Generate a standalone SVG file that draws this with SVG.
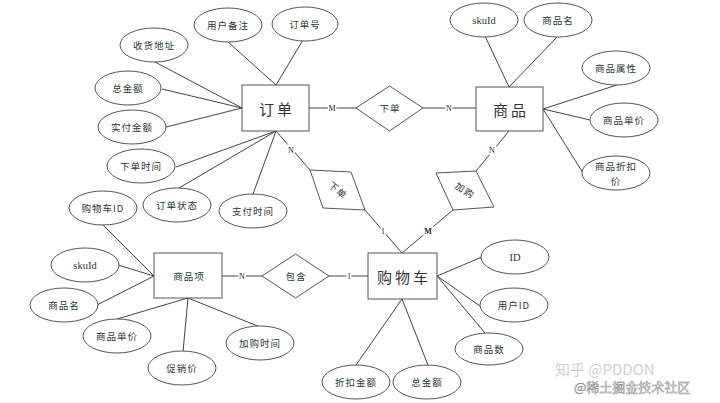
<svg xmlns="http://www.w3.org/2000/svg" width="720" height="403" viewBox="0 0 720 403">
<style>
.bg{fill:#fff}
.ent{fill:#fff;stroke:#555;stroke-width:1}
.att{fill:#fff;stroke:#555;stroke-width:1}
.rel{fill:#fff;stroke:#555;stroke-width:1}
.ln{stroke:#444;stroke-width:1;fill:none}
.t{font-family:"Noto Sans CJK SC","Liberation Serif",serif;font-size:9.5px;fill:#2a3a30;text-anchor:middle;dominant-baseline:central;letter-spacing:1px}
.s{font-family:"Liberation Serif","Noto Sans CJK SC",serif;font-size:10.5px;fill:#2a3a30;text-anchor:middle;dominant-baseline:central}
.big{font-family:"Noto Sans CJK SC",serif;font-size:15px;fill:#333;text-anchor:middle;dominant-baseline:central;letter-spacing:3px}
.card{font-family:"Liberation Serif",serif;font-size:8px;fill:#222;text-anchor:middle;dominant-baseline:central;stroke:#fff;stroke-width:3px;paint-order:stroke}
.wm{font-family:"Noto Sans CJK SC",sans-serif;text-anchor:start}
</style>
<rect class="bg" x="0" y="0" width="720" height="403"/>
<g id="connectors">
<line class="ln" x1="228" y1="42" x2="276" y2="85"/>
<line class="ln" x1="303" y1="40" x2="276" y2="85"/>
<line class="ln" x1="155" y1="62" x2="242" y2="108"/>
<line class="ln" x1="162" y1="89" x2="242" y2="108"/>
<line class="ln" x1="166" y1="127" x2="242" y2="108"/>
<line class="ln" x1="176" y1="167" x2="276" y2="131"/>
<line class="ln" x1="179" y1="188" x2="276" y2="131"/>
<line class="ln" x1="253" y1="194" x2="276" y2="131"/>
<line class="ln" x1="276" y1="131" x2="310" y2="170"/>
<line class="ln" x1="365" y1="210" x2="402" y2="253"/>
<line class="ln" x1="309" y1="108" x2="356" y2="108"/>
<line class="ln" x1="423" y1="108" x2="476" y2="108"/>
<line class="ln" x1="485" y1="36" x2="509" y2="87"/>
<line class="ln" x1="558" y1="36" x2="509" y2="87"/>
<line class="ln" x1="543" y1="109" x2="617" y2="85"/>
<line class="ln" x1="543" y1="109" x2="590" y2="120"/>
<line class="ln" x1="543" y1="109" x2="583" y2="173"/>
<line class="ln" x1="509" y1="131" x2="476" y2="171"/>
<line class="ln" x1="453" y1="210" x2="402" y2="253"/>
<line class="ln" x1="222" y1="276" x2="262" y2="276"/>
<line class="ln" x1="329" y1="276" x2="368" y2="276"/>
<line class="ln" x1="103" y1="225" x2="154" y2="276"/>
<line class="ln" x1="118" y1="265" x2="154" y2="276"/>
<line class="ln" x1="97" y1="305" x2="154" y2="276"/>
<line class="ln" x1="117" y1="319" x2="188" y2="298"/>
<line class="ln" x1="183" y1="352" x2="188" y2="298"/>
<line class="ln" x1="260" y1="327" x2="188" y2="298"/>
<line class="ln" x1="482" y1="257" x2="437" y2="276"/>
<line class="ln" x1="480" y1="306" x2="437" y2="276"/>
<line class="ln" x1="485" y1="333" x2="437" y2="276"/>
<line class="ln" x1="356" y1="365" x2="402" y2="299"/>
<line class="ln" x1="428" y1="365" x2="402" y2="299"/>
<text class="card" x="332" y="108">M</text>
<text class="card" x="449" y="108">N</text>
<text class="card" x="291" y="150">N</text>
<text class="card" x="383" y="231">1</text>
<text class="card" x="492" y="150">N</text>
<text class="card" x="428" y="231" font-weight="bold">M</text>
<text class="card" x="242" y="276">N</text>
<text class="card" x="349" y="276">1</text>
</g>
<g id="order"><rect class="ent" x="242" y="85" width="67" height="46"/><text class="big" x="277" y="108">订单</text></g>
<g id="product"><rect class="ent" x="476" y="87" width="67" height="44"/><text class="big" x="511" y="109">商品</text></g>
<g id="cart"><rect class="ent" x="368" y="253" width="69" height="46"/><text class="big" x="404" y="276">购物车</text></g>
<g id="item"><rect class="ent" x="154" y="253" width="68" height="45"/><text class="t" x="189" y="276">商品项</text></g>
<g id="rel-order"><polygon class="rel" points="356,108 389.5,86 423,108 389.5,131"/><text class="t" x="390" y="108">下单</text></g>
<g id="rel-order2"><polygon class="rel" points="310,170 351,172 365,210 323,208"/><text class="t" x="0" y="0" transform="translate(338,190) rotate(40)">下单</text></g>
<g id="rel-addcart"><polygon class="rel" points="436,173 476,171 494,207 453,210"/><text class="t" x="0" y="0" transform="translate(465,190) rotate(32)">加购</text></g>
<g id="rel-contain"><polygon class="rel" points="262,276 295.5,254 329,276 295.5,298"/><text class="t" x="296" y="276">包含</text></g>
<g id="a-remark"><ellipse class="att" cx="228" cy="25" rx="34" ry="17"/><text class="t" x="228" y="25">用户备注</text></g>
<g id="a-orderno"><ellipse class="att" cx="305" cy="24" rx="33" ry="17"/><text class="t" x="305" y="24">订单号</text></g>
<g id="a-addr"><ellipse class="att" cx="154" cy="45" rx="34" ry="17"/><text class="t" x="154" y="45">收货地址</text></g>
<g id="a-total"><ellipse class="att" cx="128" cy="88" rx="33" ry="17"/><text class="t" x="128" y="88">总金额</text></g>
<g id="a-paid"><ellipse class="att" cx="132" cy="127" rx="34" ry="17"/><text class="t" x="132" y="127">实付金额</text></g>
<g id="a-ordertime"><ellipse class="att" cx="141" cy="166" rx="34" ry="17"/><text class="t" x="141" y="166">下单时间</text></g>
<g id="a-status"><ellipse class="att" cx="177" cy="205" rx="34" ry="17"/><text class="t" x="177" y="205">订单状态</text></g>
<g id="a-paytime"><ellipse class="att" cx="253" cy="211" rx="34" ry="17"/><text class="t" x="253" y="211">支付时间</text></g>
<g id="a-skuid"><ellipse class="att" cx="484" cy="20" rx="34" ry="17"/><text class="s" x="484" y="20">skuId</text></g>
<g id="a-pname"><ellipse class="att" cx="558" cy="20" rx="34" ry="17"/><text class="t" x="558" y="20">商品名</text></g>
<g id="a-pattr"><ellipse class="att" cx="616" cy="68" rx="34" ry="17"/><text class="t" x="616" y="68">商品属性</text></g>
<g id="a-pprice"><ellipse class="att" cx="624" cy="120" rx="34" ry="17"/><text class="t" x="624" y="120">商品单价</text></g>
<g id="a-pdisc"><ellipse class="att" cx="616" cy="173" rx="34" ry="17"/><text class="t" x="616" y="166">商品折扣</text><text class="t" x="616" y="181">价</text></g>
<g id="a-cartid"><ellipse class="att" cx="103" cy="208" rx="34" ry="17"/><text class="t" x="103" y="208">购物车ID</text></g>
<g id="a-iskuid"><ellipse class="att" cx="85" cy="265" rx="34" ry="17"/><text class="s" x="85" y="265">skuId</text></g>
<g id="a-iname"><ellipse class="att" cx="64" cy="305" rx="34" ry="17"/><text class="t" x="64" y="305">商品名</text></g>
<g id="a-iprice"><ellipse class="att" cx="117" cy="336" rx="34" ry="17"/><text class="t" x="117" y="336">商品单价</text></g>
<g id="a-promo"><ellipse class="att" cx="182" cy="368" rx="34" ry="17"/><text class="t" x="182" y="368">促销价</text></g>
<g id="a-addtime"><ellipse class="att" cx="260" cy="343" rx="34" ry="17"/><text class="t" x="260" y="343">加购时间</text></g>
<g id="a-id"><ellipse class="att" cx="515" cy="257" rx="34" ry="17"/><text class="s" x="515" y="257">ID</text></g>
<g id="a-userid"><ellipse class="att" cx="514" cy="305" rx="34" ry="17"/><text class="t" x="514" y="305">用户ID</text></g>
<g id="a-count"><ellipse class="att" cx="489" cy="349" rx="34" ry="16"/><text class="t" x="489" y="349">商品数</text></g>
<g id="a-discamt"><ellipse class="att" cx="356" cy="382" rx="34" ry="17"/><text class="t" x="356" y="382">折扣金额</text></g>
<g id="a-cartotal"><ellipse class="att" cx="427" cy="382" rx="34" ry="17"/><text class="t" x="427" y="382">总金额</text></g>
<g id="watermark">
<text class="wm" x="555" y="375" font-size="15" fill="#d0d0d0">知乎 @PDDON</text>
<text class="wm" x="574" y="392" font-size="13" fill="#fff" stroke="#888" stroke-width="0.5">@稀土掘金技术社区</text>
</g>
</svg>
